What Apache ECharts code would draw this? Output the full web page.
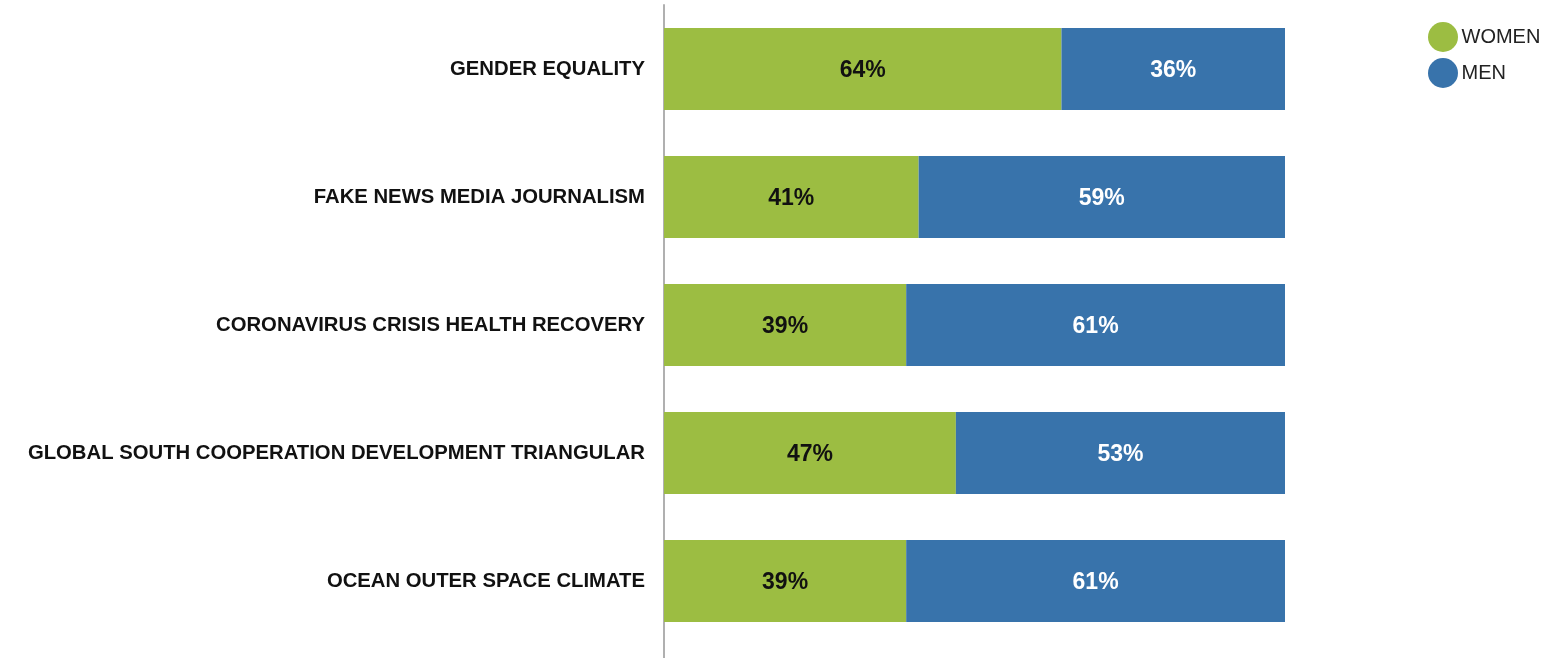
<!DOCTYPE html>
<html><head><meta charset="utf-8">
<script src="https://cdn.jsdelivr.net/npm/echarts@6/dist/echarts.min.js"></script>
<style>html,body{margin:0;padding:0;background:#fff}#c{width:1563px;height:658px}</style>
</head><body><div id="c"></div>
<script>
const categories = ["GENDER EQUALITY","FAKE NEWS MEDIA JOURNALISM","CORONAVIRUS CRISIS HEALTH RECOVERY","GLOBAL SOUTH COOPERATION DEVELOPMENT TRIANGULAR","OCEAN OUTER SPACE CLIMATE"];
const women = [64,41,39,47,39];
const men = [36,59,61,53,61];
const FF = '"Liberation Sans", Arial, sans-serif';
const chart = echarts.init(document.getElementById('c'));
chart.setOption({
  animation:false,
  textStyle:{fontFamily:FF},
  legend:{orient:'vertical',left:1423,top:17,icon:'circle',itemWidth:31,itemHeight:30,itemGap:6,
    textStyle:{fontFamily:FF,fontSize:20,color:'#222',padding:[2,0,0,-2]},data:['WOMEN','MEN']},
  grid:{left:664,right:278,top:5,bottom:13,containLabel:false},
  xAxis:{type:'value',min:0,max:100,show:false},
  yAxis:{type:'category',data:categories,inverse:true,
    axisLine:{show:true,lineStyle:{color:'#b0b0b0',width:2}},axisTick:{show:false},
    axisLabel:{margin:19,fontFamily:FF,fontSize:20.3,fontWeight:'bold',color:'#111',padding:[2,0,0,0]}},
  graphic:[{type:'line',shape:{x1:664,y1:645,x2:664,y2:658},style:{stroke:'#b0b0b0',lineWidth:2}}],
  series:[
    {name:'WOMEN',type:'bar',stack:'a',barWidth:82,data:women,itemStyle:{color:'#9cbd42'},
     label:{show:true,position:'inside',offset:[0,2],formatter:'{c}%',fontFamily:FF,fontSize:23,fontWeight:'bold',color:'#111'}},
    {name:'MEN',type:'bar',stack:'a',barWidth:82,data:men,itemStyle:{color:'#3873ab'},
     label:{show:true,position:'inside',offset:[0,2],formatter:'{c}%',fontFamily:FF,fontSize:23,fontWeight:'bold',color:'#fff'}}
  ]
});
</script></body></html>
